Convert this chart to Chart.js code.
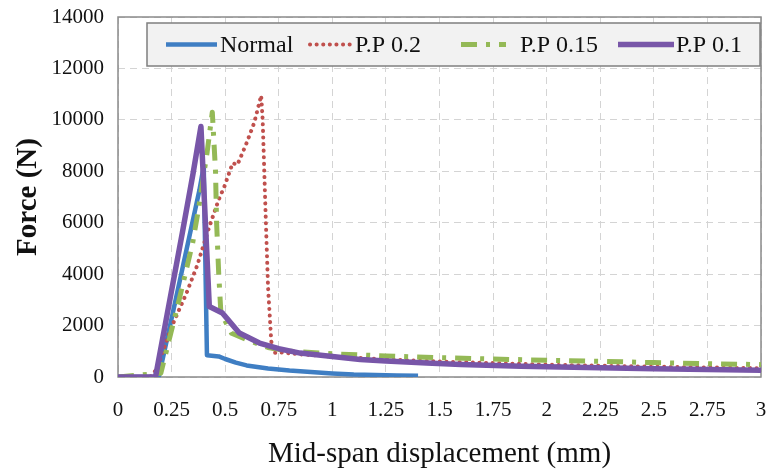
<!DOCTYPE html>
<html>
<head>
<meta charset="utf-8">
<script src="https://cdn.jsdelivr.net/npm/chart.js@4.4.1/dist/chart.umd.min.js"></script>
<style>
    html, body { margin: 0; padding: 0; background: #fff; }
    #wrap { width: 769px; height: 475px; }
</style>
</head>
<body>
<div id="wrap"><canvas id="chart" width="769" height="475"></canvas></div>
<script>
// Force (N) vs mid-span displacement (mm)
const normalX = [0, 0.19, 0.248, 0.38, 0.40, 0.415, 0.47, 0.5, 0.55, 0.6, 0.7, 0.8, 0.9, 1.0, 1.1, 1.2, 1.3, 1.4];
const normalY = [0, 0, 2200, 7270, 8200, 850, 800, 700, 560, 450, 330, 250, 190, 140, 100, 80, 60, 50];

const pp02X = [0, 0.15, 0.18, 0.25, 0.32, 0.37, 0.426, 0.47, 0.496, 0.535, 0.557, 0.58, 0.6, 0.62, 0.636, 0.668, 0.675, 0.69, 0.70, 0.715, 0.725, 0.75, 0.85, 1.0, 1.25, 1.5, 2.0, 2.5, 3.0];
const pp02Y = [0, 0, 300, 1950, 3270, 4350, 5840, 6900, 7400, 8320, 8250, 8700, 9100, 9540, 9900, 10950, 10000, 6000, 3500, 1400, 930, 960, 880, 800, 680, 600, 480, 400, 340];

const pp015X = [0, 0.2, 0.285, 0.348, 0.375, 0.416, 0.44, 0.455, 0.46, 0.47, 0.48, 0.53, 0.6, 0.7, 0.8, 1.0, 1.25, 1.5, 1.75, 2.0, 2.25, 2.5, 2.75, 3.0];
const pp015Y = [0, 150, 3000, 5200, 6500, 8750, 10300, 8000, 6000, 4000, 2500, 1700, 1450, 1150, 1000, 900, 820, 750, 700, 650, 610, 560, 520, 480];

const pp01X = [0, 0.175, 0.224, 0.3, 0.35, 0.387, 0.426, 0.487, 0.566, 0.66, 0.75, 0.85, 1.0, 1.13, 1.25, 1.44, 1.6, 1.88, 2.0, 2.25, 2.5, 2.75, 3.0];
const pp01Y = [0, 0, 2200, 5600, 7900, 9740, 2740, 2490, 1710, 1320, 1100, 930, 800, 680, 620, 545, 490, 420, 400, 360, 320, 290, 260];

const seriesNames = ['Normal', 'P.P 0.2', 'P.P 0.15', 'P.P 0.1'];
const seriesColors = ['#3f7ec3', '#c0504d', '#94b956', '#7856a8'];

const xTicksMax = 3;
const yTicksMax = 14000;

const SERIF = "'Liberation Serif', 'DejaVu Serif', serif";

function toPoints(xs, ys) {
    return xs.map((x, i) => ({ x: x, y: ys[i] }));
}

const styles = [
    { borderWidth: 4.5, borderDash: [], borderCapStyle: 'butt' },
    { borderWidth: 4, borderDash: [0.1, 6.5], borderCapStyle: 'round' },
    { borderWidth: 5, borderDash: [16, 9, 4, 9], borderCapStyle: 'butt' },
    { borderWidth: 5.5, borderDash: [], borderCapStyle: 'butt' }
];

const datasets = [
    toPoints(normalX, normalY),
    toPoints(pp02X, pp02Y),
    toPoints(pp015X, pp015Y),
    toPoints(pp01X, pp01Y)
].map((pts, i) => ({
    label: seriesNames[i],
    data: pts,
    borderColor: seriesColors[i],
    backgroundColor: seriesColors[i],
    borderWidth: styles[i].borderWidth,
    borderDash: styles[i].borderDash,
    borderCapStyle: styles[i].borderCapStyle,
    borderJoinStyle: 'round',
    pointRadius: 0,
    tension: 0,
    fill: false,
    order: 4 - i
}));

// frame around the plot area
const framePlugin = {
    id: 'frame',
    beforeDatasetsDraw(chart) {
        const { ctx, chartArea: a } = chart;
        ctx.save();
        ctx.strokeStyle = '#8a8a8a';
        ctx.lineWidth = 1.5;
        ctx.strokeRect(a.left, a.top, a.right - a.left, a.bottom - a.top);
        ctx.restore();
    }
};

// legend box sitting inside the plot, like the original
const legendPlugin = {
    id: 'boxLegend',
    afterDatasetsDraw(chart) {
        const ctx = chart.ctx;
        const box = { x: 147, y: 23, w: 613, h: 43 };
        const items = [
            { x0: 166, x1: 217, tx: 220 },
            { x0: 310, x1: 350, tx: 355 },
            { x0: 461, x1: 506, tx: 520 },
            { x0: 618, x1: 674, tx: 676 }
        ];
        ctx.save();
        ctx.fillStyle = '#f2f2f2';
        ctx.fillRect(box.x, box.y, box.w, box.h);
        ctx.strokeStyle = '#7f7f7f';
        ctx.lineWidth = 1.5;
        ctx.strokeRect(box.x, box.y, box.w, box.h);

        const cy = box.y + box.h / 2;
        chart.data.datasets.forEach((ds, i) => {
            const it = items[i];
            ctx.beginPath();
            ctx.strokeStyle = ds.borderColor;
            ctx.lineWidth = ds.borderWidth;
            ctx.lineCap = ds.borderCapStyle;
            ctx.setLineDash(ds.borderDash);
            ctx.moveTo(it.x0, cy);
            ctx.lineTo(it.x1, cy);
            ctx.stroke();
            ctx.setLineDash([]);
            ctx.fillStyle = '#111';
            ctx.font = '24px ' + SERIF;
            ctx.textBaseline = 'middle';
            ctx.textAlign = 'left';
            ctx.fillText(ds.label, it.tx, cy + 1);
        });
        ctx.restore();
    }
};

const ctx = document.getElementById('chart').getContext('2d');
new Chart(ctx, {
    type: 'line',
    data: { datasets: datasets },
    options: {
        responsive: false,
        animation: false,
        devicePixelRatio: 1,
        layout: { padding: { top: 17, right: 8, left: 0, bottom: 0 } },
        plugins: {
            legend: { display: false },
            tooltip: { enabled: false }
        },
        scales: {
            x: {
                type: 'linear',
                min: 0,
                max: xTicksMax,
                afterFit: (scale) => {
                    scale.height = 98;
                    scale.paddingLeft = 0;
                    scale.paddingRight = 0;
                },
                ticks: {
                    stepSize: 0.25,
                    autoSkip: false,
                    maxRotation: 0,
                    padding: 21,
                    color: '#111',
                    font: { family: SERIF, size: 21 },
                    callback: (v) => String(+v.toFixed(2))
                },
                grid: { color: '#d4d4d4', lineWidth: 1, drawTicks: false },
                border: { display: false, dash: [7, 5] },
                title: {
                    display: true,
                    text: 'Mid-span displacement (mm)',
                    color: '#111',
                    font: { family: SERIF, size: 29 },
                    padding: { top: 0, bottom: 3 }
                }
            },
            y: {
                min: 0,
                max: yTicksMax,
                afterFit: (scale) => {
                    scale.width = 118;
                    scale.paddingTop = 0;
                    scale.paddingBottom = 0;
                },
                ticks: {
                    stepSize: 2000,
                    padding: 14,
                    color: '#111',
                    font: { family: SERIF, size: 21 },
                    callback: (v) => String(v)
                },
                grid: { color: '#d4d4d4', lineWidth: 1, drawTicks: false },
                border: { display: false, dash: [7, 5] },
                title: {
                    display: true,
                    text: 'Force (N)',
                    color: '#111',
                    font: { family: SERIF, size: 29, weight: 'bold' },
                    padding: { top: 11, bottom: 0 }
                }
            }
        }
    },
    plugins: [framePlugin, legendPlugin]
});
</script>
</body>
</html>
